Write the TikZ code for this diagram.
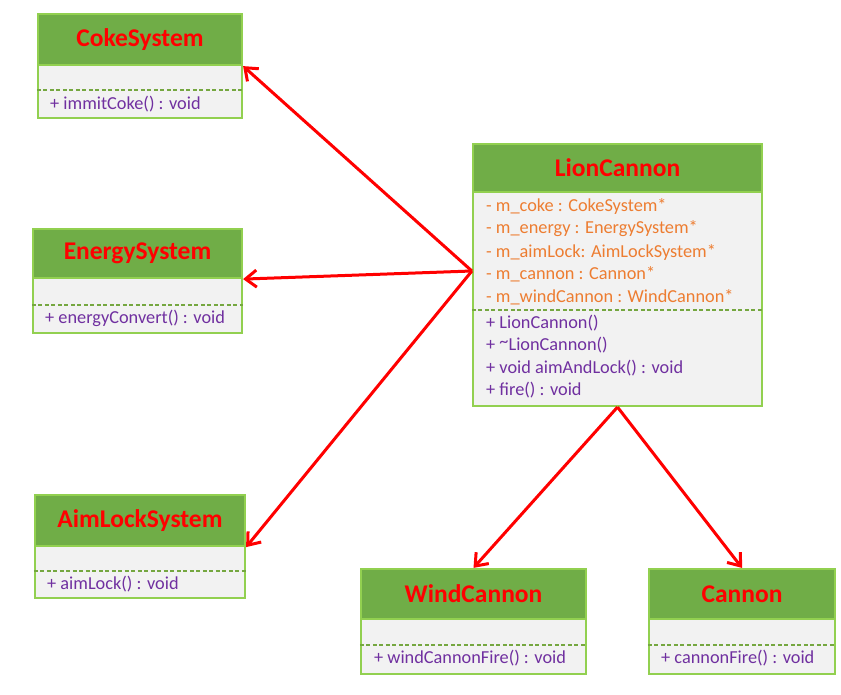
\documentclass[tikz,border=0pt]{standalone}
\usepackage{fontspec}
\setmainfont{Carlito}
\usepackage{tikz}
\usetikzlibrary{arrows.meta,positioning}
\definecolor{umlhead}{RGB}{112,173,71}
\definecolor{umledge}{RGB}{146,208,80}
\definecolor{umlbody}{RGB}{242,242,242}
\definecolor{umlop}{RGB}{112,48,160}
\definecolor{umlattr}{RGB}{237,125,49}

\tikzset{
  clshead/.style={draw=umledge, fill=umlhead, line width=2.2pt, inner sep=0pt,
    font=\fontsize{25.5}{30}\selectfont\bfseries, text=red},
  clsbody/.style={draw=umledge, fill=umlbody, line width=2.2pt, inner sep=0pt},
  sepline/.style={umledge!80!black, line width=1.2pt, dash pattern=on 4pt off 2.5pt},
  optext/.style={anchor=west, inner sep=0pt, text=umlop, font=\fontsize{18.3}{21}\selectfont},
  attrtext/.style={anchor=west, inner sep=0pt, text=umlattr, font=\fontsize{18.3}{21}\selectfont},
  assoc/.style={-{Straight Barb[length=11pt,width=17pt,line width=3pt]}, red, line width=3pt}
}

\begin{document}
\begin{tikzpicture}[x=1pt,y=-1pt]
  \useasboundingbox (0,0) rectangle (841,695);

  % CokeSystem
  \node[clsbody, minimum width=204pt, minimum height=53pt] (cokeb) at (140,91.5) {};
  \node[clshead, minimum width=204pt, minimum height=51pt] (coke) at (140,39.5) {CokeSystem};
  \draw[sepline] (cokeb.west |- 0,90) -- (cokeb.east |- 0,90);
  \node[optext] (cokeop) at (50,104) {+ immitCoke() : void};

  % EnergySystem
  \node[clsbody, minimum width=209pt, minimum height=55pt] (energyb) at (137.5,305.5) {};
  \node[clshead, minimum width=209pt, minimum height=49pt] (energy) at (137.5,253.5) {EnergySystem};
  \draw[sepline] (energyb.west |- 0,305) -- (energyb.east |- 0,305);
  \node[optext] (energyop) at (45,318) {+ energyConvert() : void};

  % AimLockSystem
  \node[clsbody, minimum width=210pt, minimum height=52pt] (aimb) at (140,572) {};
  \node[clshead, minimum width=210pt, minimum height=51pt] (aim) at (140,520.5) {AimLockSystem};
  \draw[sepline] (aimb.west |- 0,571) -- (aimb.east |- 0,571);
  \node[optext] (aimop) at (47,584) {+ aimLock() : void};

  % LionCannon
  \node[clsbody, minimum width=289pt, minimum height=214pt] (lionb) at (617.5,299) {};
  \node[clshead, minimum width=289pt, minimum height=48pt] (lion) at (617.5,168) {LionCannon};
  \node[attrtext] (lionat1) at (486,206) {- m\_coke : CokeSystem*};
  \node[attrtext] (lionat2) at (486,229) {- m\_energy : EnergySystem*};
  \node[attrtext] (lionat3) at (486,252) {- m\_aimLock: AimLockSystem*};
  \node[attrtext] (lionat4) at (486,274) {- m\_cannon : Cannon*};
  \node[attrtext] (lionat5) at (486,297) {- m\_windCannon : WindCannon*};
  \draw[sepline] (lionb.west |- 0,310) -- (lionb.east |- 0,310);
  \node[optext] (lionop1) at (486,323) {+ LionCannon()};
  \node[optext] (lionop2) at (486,345.5) {+ \raisebox{0.35ex}{\char`\~}LionCannon()};
  \node[optext] (lionop3) at (486,368) {+ void aimAndLock() : void};
  \node[optext] (lionop4) at (486,390.5) {+ fire() : void};

  % WindCannon
  \node[clsbody, minimum width=225pt, minimum height=55pt] (windb) at (473.5,646.5) {};
  \node[clshead, minimum width=225pt, minimum height=50pt] (wind) at (473.5,594) {WindCannon};
  \draw[sepline] (windb.west |- 0,645) -- (windb.east |- 0,645);
  \node[optext] (windop) at (374,658) {+ windCannonFire() : void};

  % Cannon
  \node[clsbody, minimum width=186pt, minimum height=55pt] (cannonb) at (742,646.5) {};
  \node[clshead, minimum width=186pt, minimum height=50pt] (cannon) at (742,594) {Cannon};
  \draw[sepline] (cannonb.west |- 0,645) -- (cannonb.east |- 0,645);
  \node[optext] (cannonop) at (661,658) {+ cannonFire() : void};

  % Associations
  \coordinate (lionleft) at (lionb.west |- 0,271);
  \draw[assoc] (lionleft) -- (coke.south east);
  \draw[assoc] (lionleft) -- (energy.south east);
  \draw[assoc] (lionleft) -- (aim.south east);
  \draw[assoc] (lionb.south) -- (wind.north);
  \draw[assoc] (lionb.south) -- (cannon.north);
\end{tikzpicture}
\end{document}
